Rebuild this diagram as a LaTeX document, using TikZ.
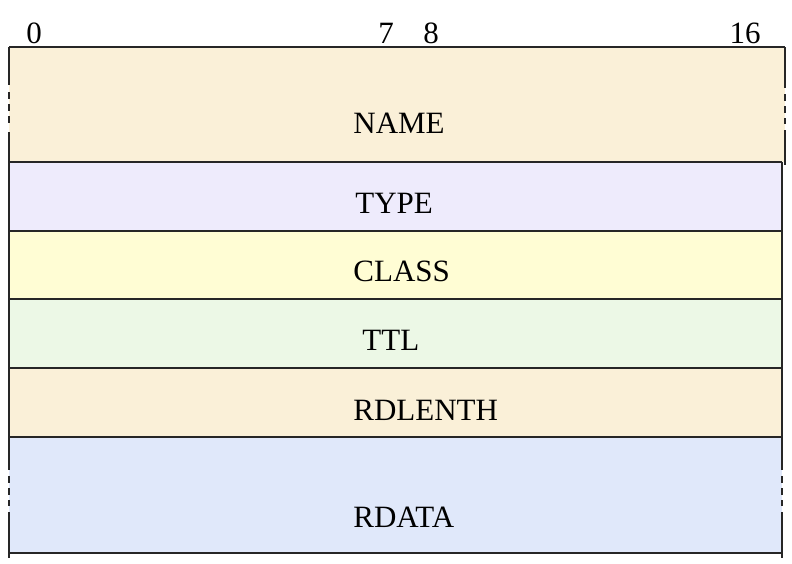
\documentclass[tikz,border=0pt]{standalone}
\usepackage{fontspec}
\setmainfont{Liberation Serif}
\usepackage{xcolor}
\usepackage{tikz}
\usetikzlibrary{calc}
\definecolor{namefill}{RGB}{250,240,216}
\definecolor{typefill}{RGB}{238,235,252}
\definecolor{classfill}{RGB}{255,253,212}
\definecolor{ttlfill}{RGB}{236,248,230}
\definecolor{datafill}{RGB}{224,232,250}
\tikzset{
  field/.style={anchor=base west,inner sep=0pt,font=\fontsize{15.5}{18}\selectfont},
  bitnum/.style={anchor=base,inner sep=0pt,font=\fontsize{15.5}{18}\selectfont},
  edge/.style={line width=1pt,black!85},
  dashedge/.style={line width=1pt,black!85,dash pattern=on 3.5pt off 2.5pt}
}

\begin{document}
\begin{tikzpicture}[x=0.5pt,y=-0.5pt]
\useasboundingbox (0,0) rectangle (792,563);
% fills
\fill[namefill] (9,47) rectangle (785,162);
\fill[typefill] (9,162) rectangle (782,231);
\fill[classfill] (9,231) rectangle (782,299);
\fill[ttlfill] (9,299) rectangle (782,368);
\fill[namefill] (9,368) rectangle (782,437);
\fill[datafill] (9,437) rectangle (782,553);
% horizontal lines
\draw[edge] (9,47)--(785,47);
\foreach \y in {162,231,299,368,437,553}
  \draw[edge] (9,\y)--(782,\y);
% side edges
\draw[edge] (9,47)--(9,85) (9,132)--(9,470) (9,512)--(9,558);
\draw[dashedge] (9,92)--(9,126) (9,476)--(9,506);
\draw[edge] (785,47)--(785,88) (785,130)--(785,165);
\draw[dashedge] (785,94)--(785,124);
\draw[edge] (782,162)--(782,470) (782,512)--(782,558);
\draw[dashedge] (782,476)--(782,506);
% bit positions
\node[bitnum] (b0) at (34,43) {0};
\node[bitnum] (b7) at (386,43) {7};
\node[bitnum] (b8) at (431,43) {8};
\node[bitnum] (b16) at (745,43) {16};
% field names
\node[field] (name) at (353,133) {NAME};
\node[field] (type) at (355,213) {TYPE};
\node[field] (class) at (353,281) {CLASS};
\node[field] (ttl) at (362,350) {TTL};
\node[field] (rdlen) at (353,420) {RDLENTH};
\node[field] (rdata) at (353,527) {RDATA};
\end{tikzpicture}
\end{document}
